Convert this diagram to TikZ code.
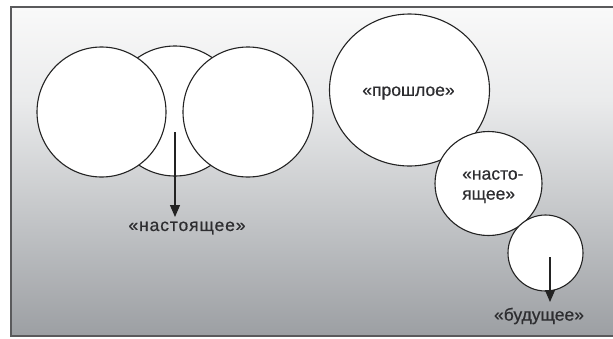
\documentclass[tikz,border=0pt]{standalone}
\usepackage{fontspec}
\setmainfont{Liberation Sans}[FakeBold=0.6]
\newfontfamily\lblfont{Liberation Sans}[FakeBold=0.6]
\newfontfamily\spacedfont{Liberation Sans}[LetterSpace=5,FakeBold=0.6]
\usetikzlibrary{arrows.meta,shapes.geometric}
\definecolor{bgtop}{RGB}{249,249,249}
\definecolor{bgmid}{RGB}{234,235,236}
\definecolor{bgbot}{RGB}{156,159,163}
\definecolor{framec}{RGB}{90,90,92}
\definecolor{linec}{RGB}{35,35,35}
\definecolor{textc}{RGB}{45,45,48}
\begin{document}
\begin{tikzpicture}[x=1pt,y=-1pt,
  ring/.style={draw=linec, line width=1.1pt, fill=white, ellipse, inner sep=0pt},
  lbl/.style={font=\lblfont\fontsize{17.5}{20}\selectfont, text=textc, inner sep=0pt},
  pointer/.style={draw=linec, line width=1.1pt, -{Triangle[length=12pt,width=10pt]}}]
\useasboundingbox (0,0) rectangle (613,338);
\fill[white] (0,0) rectangle (613,338);
\shade[top color=bgtop, bottom color=bgmid] (11,7) rectangle (613,100.5);
\shade[top color=bgmid, bottom color=bgbot] (11,100) rectangle (613,336);
\draw[framec, line width=1.6pt] (613,7) -- (11,7) -- (11,336) -- (613,336);
% left group
\node[ring, minimum width=130pt, minimum height=130pt] (mid) at (175,111) {};
\node[ring, minimum width=129pt, minimum height=130pt] (left) at (101.5,112) {};
\node[ring, minimum width=130pt, minimum height=130pt] (right) at (248,112) {};
\coordinate (a1) at (175,132);
\coordinate (t1) at (175,217);
\draw[pointer] (a1) -- (t1);
\node[lbl, font=\spacedfont\fontsize{17.5}{20}\selectfont] (now) at (187,228) {«настоящее»};
% right group
\node[ring, minimum width=160pt, minimum height=152pt] (past) at (409.5,90) {};
\node[lbl] (pastt) at (408.5,93) {«прошлое»};
\node[ring, minimum width=107pt, minimum height=104pt] (pres) at (488.5,183.5) {};
\node[lbl, align=left, anchor=north west] (prest) at (462,170) {«насто-\\ящее»};
\node[ring, minimum width=75pt, minimum height=76pt] (fut) at (545.5,253) {};
\coordinate (a2) at (550,257);
\coordinate (t2) at (550,302);
\draw[pointer] (a2) -- (t2);
\node[lbl] (futt) at (539,316) {«будущее»};
\end{tikzpicture}
\end{document}
